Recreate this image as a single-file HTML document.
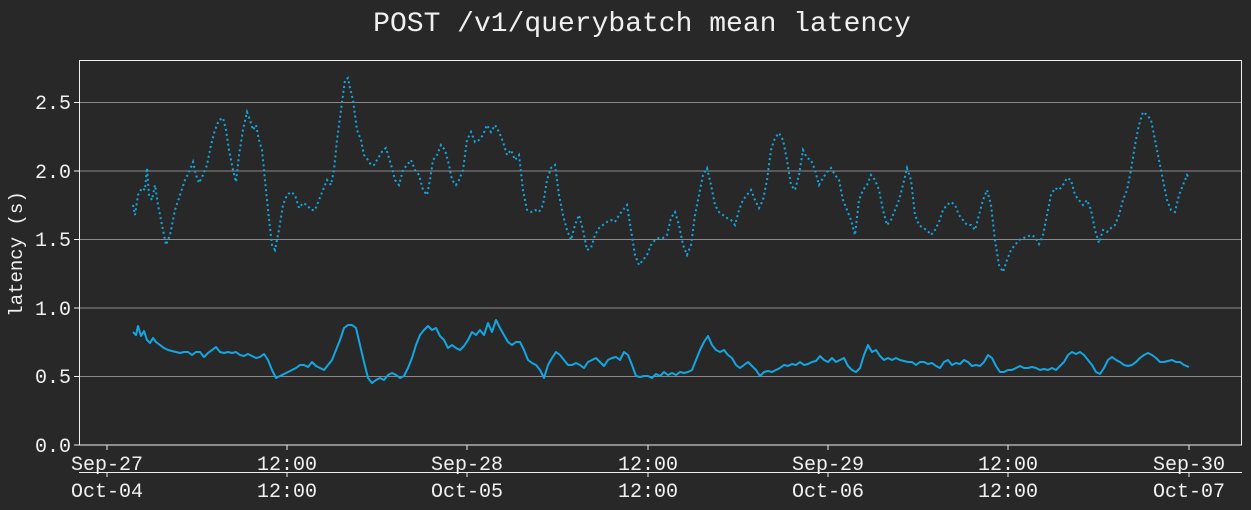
<!DOCTYPE html>
<html><head><style>
html,body{margin:0;padding:0;background:#282828;}
svg{display:block;}
text{font-family:"Liberation Mono","DejaVu Sans Mono",monospace;fill:#f0f0f0;}
</style></head><body>
<svg width="1251" height="510" viewBox="0 0 1251 510">
<rect width="1251" height="510" fill="#282828"/>
<text x="642" y="31" font-size="28" text-anchor="middle">POST /v1/querybatch mean latency</text>
<g stroke="#8a8a8a" stroke-width="1">
<line x1="80" x2="1242" y1="376.5" y2="376.5"/>
<line x1="80" x2="1242" y1="308" y2="308"/>
<line x1="80" x2="1242" y1="239.5" y2="239.5"/>
<line x1="80" x2="1242" y1="171" y2="171"/>
<line x1="80" x2="1242" y1="102.5" y2="102.5"/>
</g>
<rect x="79.5" y="60.5" width="1162" height="384.5" fill="none" stroke="#f0f0f0" stroke-width="1"/>
<g stroke="#f0f0f0" stroke-width="1">
<line x1="79" x2="1242" y1="472.5" y2="472.5"/>
<line x1="107" x2="107" y1="445" y2="450"/><line x1="287" x2="287" y1="445" y2="450"/><line x1="467" x2="467" y1="445" y2="450"/><line x1="648" x2="648" y1="445" y2="450"/><line x1="828" x2="828" y1="445" y2="450"/><line x1="1008" x2="1008" y1="445" y2="450"/><line x1="1189" x2="1189" y1="445" y2="450"/>
<line x1="107" x2="107" y1="472" y2="477"/><line x1="287" x2="287" y1="472" y2="477"/><line x1="467" x2="467" y1="472" y2="477"/><line x1="648" x2="648" y1="472" y2="477"/><line x1="828" x2="828" y1="472" y2="477"/><line x1="1008" x2="1008" y1="472" y2="477"/><line x1="1189" x2="1189" y1="472" y2="477"/>
<line x1="74" x2="79" y1="445" y2="445"/><line x1="74" x2="79" y1="376.5" y2="376.5"/><line x1="74" x2="79" y1="308" y2="308"/><line x1="74" x2="79" y1="239.5" y2="239.5"/><line x1="74" x2="79" y1="171" y2="171"/><line x1="74" x2="79" y1="102.5" y2="102.5"/>
</g>
<g font-size="20" text-anchor="end">
<text x="71" y="452">0.0</text><text x="71" y="383">0.5</text><text x="71" y="315">1.0</text><text x="71" y="246">1.5</text><text x="71" y="178">2.0</text><text x="71" y="109">2.5</text>
</g>
<g font-size="20" text-anchor="middle">
<text x="107" y="470">Sep-27</text><text x="287" y="470">12:00</text><text x="467" y="470">Sep-28</text><text x="648" y="470">12:00</text><text x="828" y="470">Sep-29</text><text x="1008" y="470">12:00</text><text x="1189" y="470">Sep-30</text>
<text x="107" y="497">Oct-04</text><text x="287" y="497">12:00</text><text x="467" y="497">Oct-05</text><text x="648" y="497">12:00</text><text x="828" y="497">Oct-06</text><text x="1008" y="497">12:00</text><text x="1189" y="497">Oct-07</text>
</g>
<text x="22" y="254" font-size="19" text-anchor="middle" transform="rotate(-90 22 254)">latency (s)</text>
<polyline fill="none" stroke="#12a7e2" stroke-width="2" stroke-dasharray="2,3" points="133,205 135,215 138,195 142,188 145,190 147,168 149,195 152,200 155,185 158,205 162,225 166,245 170,235 175,210 180,195 185,180 190,170 193,162 196,175 199,183 203,175 207,165 211,145 215,130 219,120 223,118 226,130 229,150 233,170 236,182 239,155 243,130 247,112 250,120 253,130 256,125 259,140 262,150 265,180 268,210 272,245 275,250 279,230 283,205 287,195 291,192 295,195 299,208 303,203 307,205 311,210 315,210 319,200 323,190 327,180 331,185 334,170 337,140 341,110 345,80 348,78 350,88 353,100 357,130 361,140 364,155 368,160 371,165 374,165 377,160 380,155 383,150 386,148 389,158 392,168 395,180 399,185 403,170 407,165 411,160 415,170 419,175 423,190 427,195 430,180 433,160 437,155 441,145 445,150 449,165 452,180 456,185 459,180 463,170 467,140 471,132 475,142 479,140 483,135 487,125 491,132 495,125 499,132 503,142 507,155 511,150 515,160 519,155 523,190 527,210 531,212 535,210 539,212 543,205 547,180 551,168 555,165 559,195 563,215 567,230 571,240 575,225 579,215 583,230 587,250 591,248 595,235 599,228 603,225 607,222 611,220 615,222 619,215 623,210 627,205 631,230 635,255 639,265 643,260 647,255 651,245 655,240 659,238 663,238 667,235 671,218 675,212 679,225 683,245 687,255 691,245 695,215 699,195 703,175 707,168 711,185 715,205 719,212 723,215 727,218 731,220 735,225 739,210 743,200 747,195 751,190 755,200 759,208 763,200 767,180 771,150 775,138 779,133 783,140 787,160 791,185 795,190 799,175 803,150 807,158 811,160 815,170 819,185 823,178 827,172 831,168 835,175 839,180 843,200 847,210 851,220 855,235 859,200 863,190 867,185 871,175 875,180 879,190 883,210 887,225 891,220 895,210 899,200 903,185 907,168 911,180 915,215 919,225 923,228 927,230 931,235 935,230 939,222 943,210 947,205 951,202 955,205 959,215 963,220 967,225 971,225 975,230 979,215 983,200 987,190 991,205 995,240 999,265 1003,272 1007,260 1011,250 1015,245 1019,240 1023,238 1027,237 1031,235 1035,237 1039,244 1043,235 1047,215 1051,195 1055,188 1059,190 1063,185 1067,178 1071,180 1075,195 1079,200 1083,205 1087,200 1091,210 1095,230 1099,243 1103,230 1107,232 1111,228 1115,225 1119,215 1123,200 1127,190 1131,170 1135,145 1139,125 1143,112 1147,115 1151,120 1155,140 1159,160 1163,180 1167,200 1171,210 1175,212 1179,195 1183,185 1187,175 1189,178"/>
<polyline fill="none" stroke="#12a7e2" stroke-width="2" stroke-linejoin="round" points="133,332 136,335 138,326 141,336 144,331 147,340 150,343 153,338 156,342 160,345 164,348 168,350 172,351 176,352 180,353 184,352 188,352 192,355 196,352 200,352 204,357 208,353 212,350 216,347 220,352 224,353 228,352 232,353 236,352 240,355 244,356 248,354 252,356 256,358 260,357 264,354 268,360 272,370 276,378 280,376 284,374 288,372 292,370 296,368 300,365 304,365 308,367 312,362 316,366 320,368 324,370 328,365 332,360 336,350 340,340 344,328 348,325 352,325 356,328 360,345 364,362 368,378 372,383 376,380 380,378 384,380 388,375 392,373 396,375 400,378 404,376 408,368 412,358 416,345 420,335 424,330 428,326 432,330 436,328 440,336 444,340 448,348 452,345 456,348 460,350 464,346 468,340 472,332 476,335 480,330 484,335 488,323 492,332 496,320 500,328 504,335 508,342 512,345 516,342 520,342 524,350 528,360 532,363 536,365 540,370 544,378 548,365 552,358 556,352 560,355 564,360 568,365 572,365 576,363 580,365 584,368 588,362 592,360 596,358 600,362 604,366 608,360 612,358 616,357 620,360 624,352 628,355 632,365 636,376 640,377 644,376 648,376 652,378 656,374 660,376 664,372 668,375 672,373 676,375 680,372 684,373 688,372 692,370 696,360 700,350 704,342 708,336 712,345 716,350 720,352 724,350 728,355 732,358 736,365 740,368 744,365 748,362 752,366 756,370 760,376 764,372 768,371 772,372 776,370 780,368 784,365 788,366 792,364 796,365 800,362 804,365 808,364 812,362 816,361 820,356 824,360 828,362 832,358 836,362 840,360 844,358 848,366 852,370 856,372 860,368 864,355 868,345 872,352 876,350 880,356 884,360 888,358 892,360 896,358 900,360 904,361 908,362 912,362 916,365 920,362 924,362 928,364 932,363 936,366 940,368 944,362 948,360 952,365 956,363 960,364 964,360 968,362 972,366 976,365 980,366 984,362 988,355 992,358 996,366 1000,372 1004,372 1008,370 1012,370 1016,368 1020,366 1024,368 1028,368 1032,367 1036,368 1040,370 1044,369 1048,370 1052,368 1056,370 1060,366 1064,362 1068,355 1072,352 1076,354 1080,352 1084,355 1088,360 1092,365 1096,372 1100,374 1104,368 1108,360 1112,357 1116,360 1120,362 1124,365 1128,366 1132,365 1136,362 1140,358 1144,355 1148,353 1152,355 1156,358 1160,362 1164,362 1168,361 1172,360 1176,362 1180,362 1184,365 1189,367"/>
</svg>
</body></html>
